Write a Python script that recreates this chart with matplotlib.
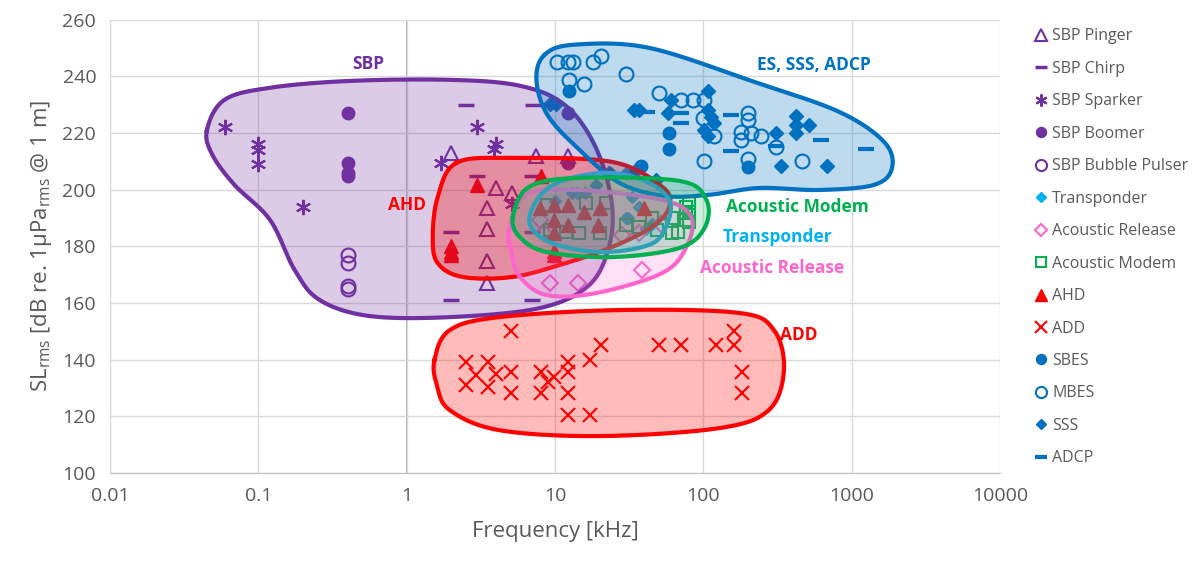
import numpy as np
import matplotlib
matplotlib.use('Agg')
import matplotlib.pyplot as plt
from matplotlib.lines import Line2D

plt.rcParams['font.family'] = ['Open Sans', 'DejaVu Sans']
plt.rcParams['mathtext.default'] = 'regular'

PURPLE = '#7030A0'
RED = '#FF0000'
BLUE = '#0070C0'
CYAN = '#00B0F0'
PINK = '#FF66CC'
GREEN = '#00B050'

# ---- data: (frequency kHz, SL dB) per source type ----
pinger_f = [2.0, 4.0, 5.1, 3.5, 3.5, 3.5, 3.5, 7.5, 12.3]
pinger_db = [213, 200.5, 199, 193.5, 186, 175, 167, 212, 212]

chirp_f = [2.5, 7.1, 3.0, 7.0, 2.0, 7.0, 2.0, 7.0]
chirp_db = [230, 230, 205, 205, 185, 185, 161, 161]

sparker_f = [0.06, 0.1, 0.1, 0.1, 0.2, 1.7, 3.0, 4.0, 3.9, 5.1]
sparker_db = [222, 216, 214, 209, 194, 209.5, 222, 216, 214.5, 195]

boomer_f = [0.4, 0.4, 0.4, 0.4, 12.3, 12.2]
boomer_db = [227, 209.5, 206, 205, 227, 209.5]

bubble_f = [0.4, 0.4, 0.4, 0.4]
bubble_db = [177, 174, 166, 165]

transp_f = [13, 16, 19, 24, 30, 31, 37, 41, 14, 19, 30, 33, 45, 10]
transp_db = [199, 199, 201.5, 206, 206, 190, 194, 186, 199, 201.7, 190, 197.5, 188, 196]

release_f = [9.2, 14.4, 38.8, 7.9, 8.4, 28.5, 37, 52]
release_db = [167, 167, 171.5, 189.3, 184.7, 184, 184.7, 188]

modem_f = [9.2, 11.9, 14.6, 20, 16.2, 22, 30, 37, 45, 48.5, 62, 76, 76, 76, 62, 8.9, 80, 80, 80, 68]
modem_db = [185.8, 185.2, 184.7, 184.7, 195.3, 195.3, 187.6, 187, 190, 185.8, 184.7, 194,
            191.8, 189.3, 190, 194.6, 195.3, 192, 188.6, 185]

ahd_f = [2.0, 2.0, 2.0, 3.0, 8.1, 9.9, 9.9, 7.9, 9.9, 12.2, 15.8, 20, 9.9, 12.2, 19.4, 9.9, 40]
ahd_db = [180, 178, 177, 201.5, 205, 177, 178.5, 193.4, 194.6, 194.6, 192.3, 193.4, 189.3,
          187.6, 187.6, 184.6, 193.4]

add_f = [5.07, 2.52, 3.53, 2.95, 4.02, 2.52, 3.53, 5.07, 5.07, 8.07, 8.07, 9.93, 9.0, 12.2,
         12.2, 12.2, 12.2, 17.3, 17.3, 20.3, 50.6, 70.7, 122, 162, 162, 182, 182]
add_db = [150, 139, 139, 134.5, 135, 131, 130.5, 135.7, 128.2, 135.7, 128.2, 133.8, 132,
          139.3, 135.7, 128.2, 120.5, 120.5, 140, 145, 145, 145, 145, 150, 145, 135.7, 128.2]

sbes_f = [12.4, 59, 59, 38, 199]
sbes_db = [235, 220, 214.3, 208.4, 208]

mbes_f = [10.4, 12.2, 13.2, 18, 20.5, 12.4, 15.8, 30.2, 50.6, 70.7, 84.8, 101.6, 99, 118.6,
          101.6, 199, 199, 179, 210, 245, 179, 309, 199, 462]
mbes_db = [245, 245, 245, 245, 247.3, 238.8, 237.3, 241, 234, 231.7, 231.7, 231.7, 225.3,
           218.8, 210, 227, 224.7, 220.5, 220, 219, 217.6, 215, 211, 210.3]

sss_f = [9.2, 10.2, 34.3, 37, 57.5, 60.6, 107, 107, 113, 101.6, 118.6, 107, 309, 421, 421,
         517, 421, 333, 688, 23, 35, 48]
sss_db = [230.3, 230.3, 228.2, 228.2, 227.2, 231.7, 234.7, 228.2, 225.8, 221, 223.5, 218.8,
          220, 226.1, 222.9, 222.9, 220, 208.2, 208.2, 206, 207, 203.5]

adcp_f = [42, 70.7, 70.7, 153, 153, 309, 626, 1247]
adcp_db = [227.4, 227, 223.5, 226.4, 213.5, 215.3, 217.4, 214.3]

# ---- hand-drawn group outlines (frequency kHz, dB) ----
sbp_outline = [(0.045, 221), (0.059, 231.7), (0.12, 236), (0.41, 238.4), (1.95, 238.8),
               (5.8, 236.7), (11.6, 230), (18.5, 215.8), (24, 196.4), (23.3, 180.5),
               (17, 166.3), (7.9, 158.2), (1.95, 155), (0.56, 155.4), (0.26, 161),
               (0.176, 171.6), (0.12, 189.3), (0.069, 201.7), (0.049, 212.3)]
ahd_outline = [(2.17, 209.5), (5.2, 211.2), (24.4, 209.8), (53, 201), (59, 193.9),
               (45, 186.8), (24.4, 179.8), (11.9, 174.1), (5.2, 169.2), (2.38, 169.2),
               (1.62, 174.1), (1.5, 183.3), (1.62, 197.4)]
es_outline = [(8.5, 247.6), (13.5, 251.2), (43, 250.1), (220, 238.1), (824, 227.5),
              (1656, 216.9), (1875, 207.7), (1418, 201.7), (604, 199.9), (238, 200.6),
              (110, 198.2), (54.6, 197.8), (27.2, 202.4), (14.6, 214.1), (8.9, 226.4),
              (7.5, 238.8)]
modem_outline = [(5.2, 190.4), (6.7, 201), (14.6, 204.2), (69, 203.1), (105, 196.4),
                 (102, 186.5), (69, 179.4), (24.4, 176.2), (8.8, 178), (5.8, 183.3)]
transp_outline = [(6.7, 189.3), (9.2, 201), (20, 205.9), (38.8, 203.5), (59, 196.4),
                  (56, 186.8), (43, 180.5), (20, 178), (9.2, 181.5)]
release_outline = [(4.9, 185.8), (6.4, 198.2), (14.6, 199.9), (53, 196.4), (83, 190.4),
                   (77, 179.8), (53, 170.6), (19, 163.5), (8.8, 162.8), (5.8, 169.2),
                   (5.1, 177.7)]
add_outline = [(1.54, 139.8), (1.95, 150.4), (4.2, 155), (27, 157.5), (174, 156.5),
               (300, 150.4), (350, 136.3), (277, 122.2), (128, 115.8), (20, 113),
               (4.2, 115.1), (1.95, 122.2), (1.6, 131)]


def smooth_closed(outline, n=30):
    """Periodic Catmull-Rom through the outline, in log-frequency space."""
    pts = np.array([(np.log10(f), db / 40.0) for f, db in outline])
    m = len(pts)
    out = []
    for i in range(m):
        p0, p1, p2, p3 = pts[i - 1], pts[i], pts[(i + 1) % m], pts[(i + 2) % m]
        t = np.linspace(0, 1, n, endpoint=False)[:, None]
        seg = 0.5 * ((2 * p1) + (-p0 + p2) * t + (2 * p0 - 5 * p1 + 4 * p2 - p3) * t ** 2
                     + (-p0 + 3 * p1 - 3 * p2 + p3) * t ** 3)
        out.append(seg)
    out = np.vstack(out)
    out = np.vstack([out, out[:1]])
    return 10 ** out[:, 0], out[:, 1] * 40.0


fig = plt.figure(figsize=(11.96, 5.65), dpi=100)
ax = fig.add_axes([0.092, 0.163, 0.744, 0.802])
ax.set_xscale('log')
ax.set_xlim(0.01, 10000)
ax.set_ylim(100, 260)

# scatter series
series = [
    ('SBP Pinger', pinger_f, pinger_db, dict(marker='^', color=PURPLE, mfc='none', ms=10, mew=1.5)),
    ('SBP Chirp', chirp_f, chirp_db, dict(marker='_', color=PURPLE, ms=11, mew=2.5)),
    ('SBP Sparker', sparker_f, sparker_db, dict(marker=(6, 2, 0), color=PURPLE, ms=11, mew=1.5)),
    ('SBP Boomer', boomer_f, boomer_db, dict(marker='o', color=PURPLE, ms=9)),
    ('SBP Bubble Pulser', bubble_f, bubble_db, dict(marker='o', color=PURPLE, mfc='none', ms=10, mew=1.5)),
    ('Transponder', transp_f, transp_db, dict(marker='D', color=CYAN, ms=6)),
    ('Acoustic Release', release_f, release_db, dict(marker='D', color=PINK, mfc='none', ms=8, mew=1.5)),
    ('Acoustic Modem', modem_f, modem_db, dict(marker='s', color=GREEN, mfc='none', ms=9, mew=1.5)),
    ('AHD', ahd_f, ahd_db, dict(marker='^', color=RED, ms=10)),
    ('ADD', add_f, add_db, dict(marker='x', color=RED, ms=10, mew=1.5)),
    ('SBES', sbes_f, sbes_db, dict(marker='o', color=BLUE, ms=9)),
    ('MBES', mbes_f, mbes_db, dict(marker='o', color=BLUE, mfc='none', ms=10, mew=1.5)),
    ('SSS', sss_f, sss_db, dict(marker='D', color=BLUE, ms=7)),
    ('ADCP', adcp_f, adcp_db, dict(marker='_', color=BLUE, ms=11, mew=3)),
]
handles = []
for name, f, db, st in series:
    ax.plot(f, db, ls='none', zorder=2, **st)
    lst = dict(st)
    lst['ms'] = st['ms'] * 0.8
    handles.append(Line2D([], [], ls='none', label=name, **lst))

# group outlines on top of the points
blobs = [
    (sbp_outline, PURPLE, 0.25),
    (add_outline, RED, 0.27),
    (ahd_outline, RED, 0.3),
    (es_outline, BLUE, 0.26),
    (release_outline, PINK, 0.2),
    (transp_outline, '#3C9BD3', 0.22),
    (modem_outline, GREEN, 0.2),
]
for k, (outline, c, a) in enumerate(blobs):
    x, y = smooth_closed(outline)
    ax.fill(x, y, facecolor=c, alpha=a, lw=0, zorder=3 + k * 0.1)
    ax.plot(x, y, color=c, lw=3, zorder=3.05 + k * 0.1)

# group labels
lab = dict(fontweight='bold', fontsize=12.5, ha='center', va='center', zorder=5)
ax.text(0.55, 244.5, 'SBP', color=PURPLE, **lab)
ax.text(1.0, 194.6, 'AHD', color=RED, **lab)
ax.text(560, 244, 'ES, SSS, ADCP', color=BLUE, **lab)
ax.text(430, 194, 'Acoustic Modem', color=GREEN, **lab)
ax.text(315, 183.3, 'Transponder', color=CYAN, **lab)
ax.text(290, 172.4, 'Acoustic Release', color=PINK, **lab)
ax.text(440, 148.7, 'ADD', color=RED, **lab)

# axes styling
ax.grid(True, which='major', color='#D9D9D9', lw=1, zorder=0)
ax.axvline(1, color='#A6A6A6', lw=1.2, zorder=1)
for s in ['top', 'right']:
    ax.spines[s].set_visible(False)
ax.spines['left'].set_color('#D9D9D9')
ax.spines['bottom'].set_color('#BFBFBF')
ax.set_xticks([0.01, 0.1, 1, 10, 100, 1000, 10000])
ax.set_xticklabels(['0.01', '0.1', '1', '10', '100', '1000', '10000'])
ax.minorticks_off()
ax.tick_params(colors='#595959', labelsize=14, length=0, pad=10)
ax.set_yticks(range(100, 261, 20))
ax.set_xlabel('Frequency [kHz]', fontsize=16, color='#595959', labelpad=12)
ax.set_ylabel('SL$_{rms}$ [dB re. 1µPa$_{rms}$ @ 1 m]', fontsize=16, color='#595959', labelpad=6)

fig.legend(handles=handles, loc='upper left', bbox_to_anchor=(0.853, 0.975), frameon=False,
           fontsize=11.5, labelspacing=1.03, handlelength=0.8, handletextpad=0.3,
           labelcolor='#595959')

fig.savefig('out.png', dpi=100)
